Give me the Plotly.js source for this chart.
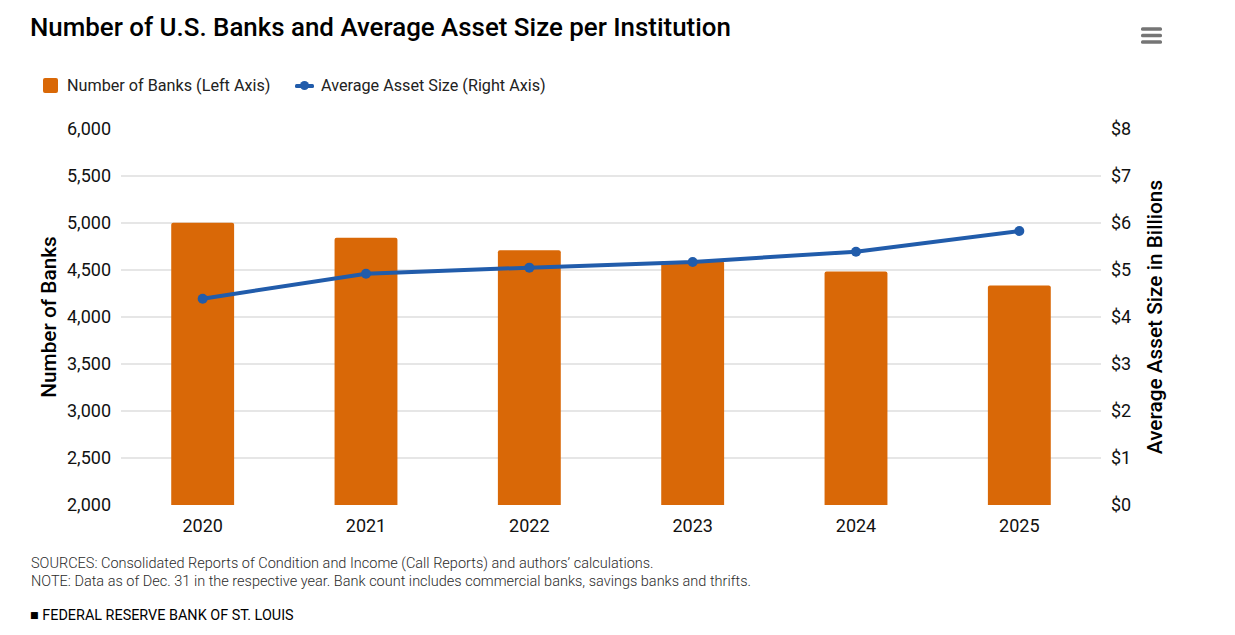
<!DOCTYPE html>
<html><head><meta charset="utf-8">
<script src="https://cdn.plot.ly/plotly-3.0.1.min.js"></script>
<style>html,body{margin:0;padding:0;background:#fff;overflow:hidden}</style>
</head><body><div id="chart" style="width:1235px;height:635px"></div>
<script>
const years = ['2020','2021','2022','2023','2024','2025'];
const bankCounts = [5003,4843,4709,4597,4485,4336];
const avgAssetSize = [4.39,4.92,5.05,5.17,5.39,5.83];
const leftTicks = [2000,2500,3000,3500,4000,4500,5000,5500,6000];
const rightTicks = [0,1,2,3,4,5,6,7,8];
const rightLabels = ['$0','$1','$2','$3','$4','$5','$6','$7','$8'];
const barName = 'Number of Banks (Left Axis)';
const lineName = 'Average Asset Size (Right Axis)';
const titleText = 'Number of U.S. Banks and Average Asset Size per Institution';
const sourceNote = 'SOURCES: Consolidated Reports of Condition and Income (Call Reports) and authors’ calculations.';
const dataNote = 'NOTE: Data as of Dec. 31 in the respective year. Bank count includes commercial banks, savings banks and thrifts.';
const creditLine = '■ FEDERAL RESERVE BANK OF ST. LOUIS';
const W=1235,H=635;
const L=121,R=1101,T=129,B=505;
const px=x=>(x-L)/(R-L), py=y=>(B-y)/(B-T);
const F='Roboto, sans-serif';
const ORANGE='#D96807', BLUE='#215CAB';
const roundRect=(x0,x1,y0,y1,r,c)=>{
 const P=(x,y)=>px(x)+','+py(y);
 return {type:'path',xref:'paper',yref:'paper',fillcolor:c,line:{width:0},layer:'above',
  path:'M'+P(x0+r,y0)+' L'+P(x1-r,y0)+' Q'+P(x1,y0)+' '+P(x1,y0+r)+' L'+P(x1,y1-r)+' Q'+P(x1,y1)+' '+P(x1-r,y1)+' L'+P(x0+r,y1)+' Q'+P(x0,y1)+' '+P(x0,y1-r)+' L'+P(x0,y0+r)+' Q'+P(x0,y0)+' '+P(x0+r,y0)+' Z'};
};
const burger=[29,35.5,42].map(y=>roundRect(1141,1162,y-1.8,y+1.8,1.5,'#757575'));
const keys=[
 roundRect(43,58,78,93,2,ORANGE),
 roundRect(295,314,84,88,1.5,BLUE),
 {type:'circle',xref:'paper',yref:'paper',x0:px(300),x1:px(309),y0:py(81),y1:py(90),fillcolor:BLUE,line:{width:0},layer:'above'}
];
const text=(t,x,y,size,color,weight)=>({text:t,xref:'paper',yref:'paper',x:px(x),y:py(y),xanchor:'left',yanchor:'middle',showarrow:false,align:'left',font:{family:F,size,color,weight}});
Plotly.newPlot('chart',[
 {type:'bar',name:barName,x:years,y:bankCounts,width:0.385,marker:{color:ORANGE,cornerradius:2},yaxis:'y',hoverinfo:'x+y'},
 {type:'scatter',mode:'lines+markers',name:lineName,x:years,y:avgAssetSize,yaxis:'y2',line:{color:BLUE,width:4},marker:{color:BLUE,size:10},hoverinfo:'x+y'}
],{
 width:W,height:H,paper_bgcolor:'#fff',plot_bgcolor:'#fff',
 margin:{l:L,r:W-R,t:T,b:H-B,pad:0},
 font:{family:F,color:'#000'},
 title:{text:titleText,x:30/W,xanchor:'left',xref:'container',y:1-27/H,yanchor:'middle',font:{family:F,size:25.9,color:'#000',weight:500}},
 showlegend:false,
 xaxis:{type:'category',tickfont:{family:F,size:18,color:'#111'},ticks:'',showgrid:false,showline:false,zeroline:false,ticklen:0,ticklabelstandoff:8,automargin:false},
 yaxis:{range:[2000,6000],tickmode:'array',tickvals:leftTicks,tickformat:',d',tickfont:{family:F,size:18,color:'#111'},gridcolor:'#e6e6e6',gridwidth:1.6,zeroline:false,showline:false,ticks:'',ticklabelstandoff:9,automargin:false,
  title:{text:'Number of Banks',standoff:4,font:{family:F,size:20.8,color:'#000',weight:500}}},
 yaxis2:{overlaying:'y',side:'right',range:[0,8],tickmode:'array',tickvals:rightTicks,ticktext:rightLabels,tickfont:{family:F,size:18,color:'#111'},showgrid:false,zeroline:false,showline:false,ticks:'',ticklabelstandoff:9,automargin:false,
  title:{text:'Average Asset Size in Billions',standoff:17,font:{family:F,size:20.8,color:'#000',weight:500}}},
 shapes:burger.concat(keys),
 annotations:[
  text(barName,64.7,85.5,16.2,'#222',400),
  text(lineName,318.7,85.5,16.2,'#222',400),
  text(sourceNote,28.7,563.5,14.5,'#2b2b2b',300),
  text(dataNote,28.7,581.5,14.5,'#2b2b2b',300),
  text(creditLine,27.7,615,14.4,'#000',400)
 ]
},{displayModeBar:false,responsive:false});
</script></body></html>
